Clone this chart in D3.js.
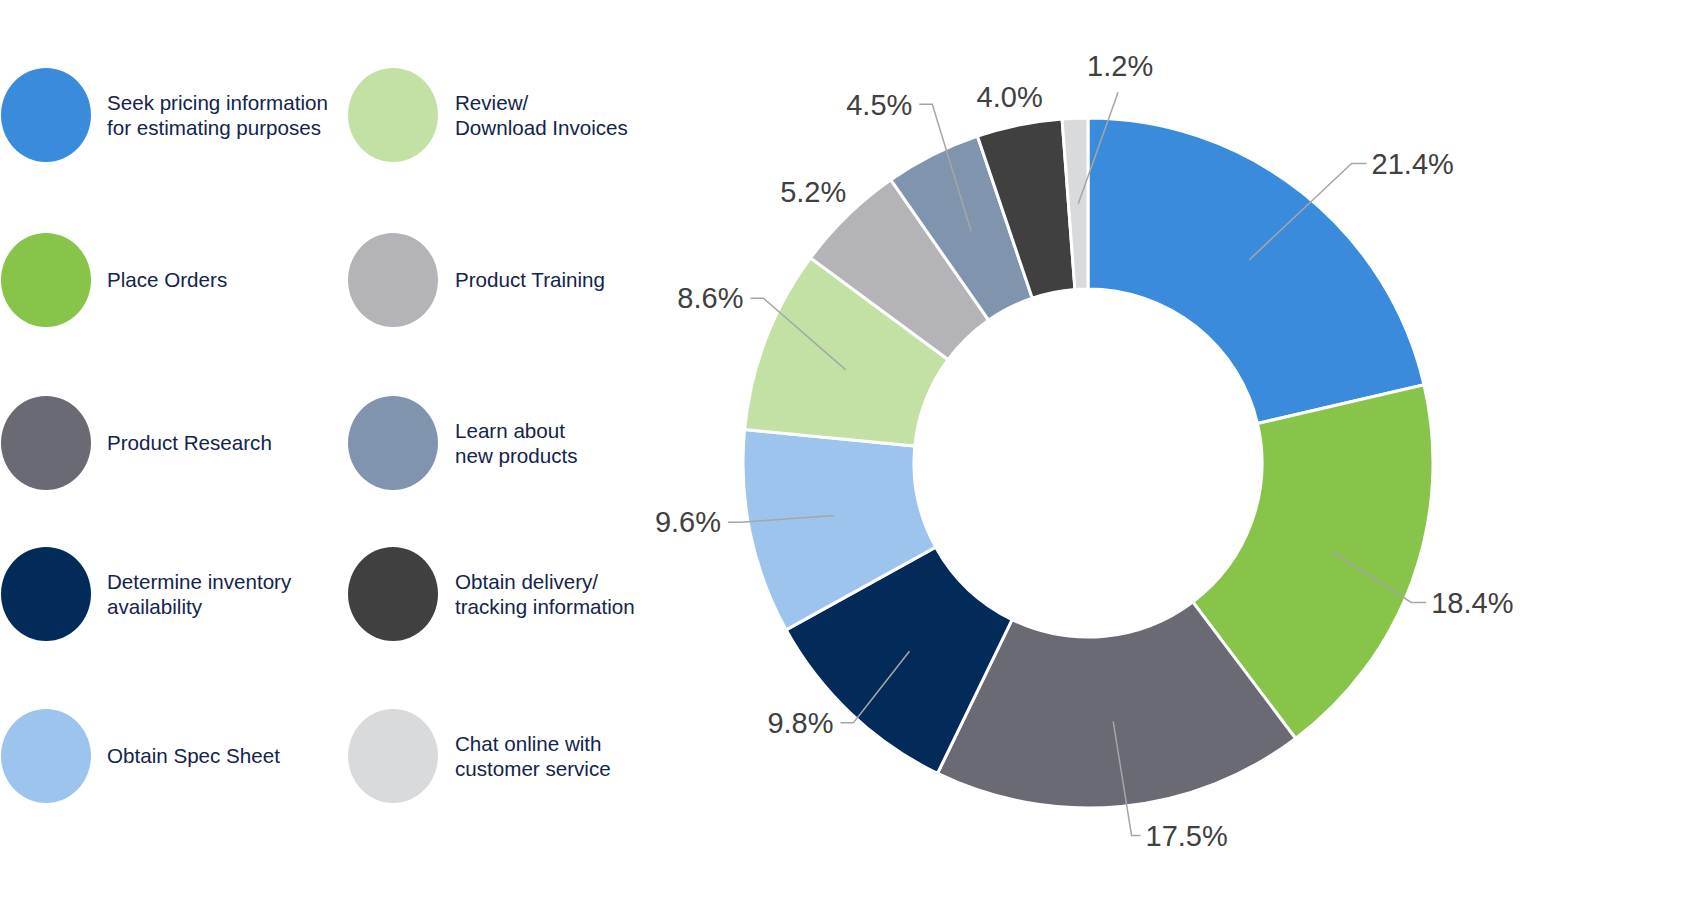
<!DOCTYPE html>
<html>
<head>
<meta charset="utf-8">
<script src="https://cdn.jsdelivr.net/npm/d3@7"></script>
<style>
  body { margin: 0; background: #fff; }
  svg text { font-family: "Liberation Sans", Arial, sans-serif; }
</style>
</head>
<body>
<div id="chart"></div>
<script>
// categories, clockwise from 12 o'clock
var categories = [
  ['Seek pricing information', 'for estimating purposes'],
  ['Place Orders'],
  ['Product Research'],
  ['Determine inventory', 'availability'],
  ['Obtain Spec Sheet'],
  ['Review/', 'Download Invoices'],
  ['Product Training'],
  ['Learn about', 'new products'],
  ['Obtain delivery/', 'tracking information'],
  ['Chat online with', 'customer service']
];
var shares = [21.4, 18.4, 17.5, 9.8, 9.6, 8.6, 5.2, 4.5, 4.0, 1.2];
var colors = ['#3b8bdd', '#88c34a', '#6a6a74', '#022b5a', '#9dc4ec',
              '#c4e1a5', '#b4b4b8', '#8094ad', '#404040', '#d9dadc'];

// label layout: angle nudge (deg) from slice middle, radius of the label anchor, leader?
var labelNudge = [2.9, 3.4, -1.1, -1.4, 2.0, 5.9, -1.2, 3.3, -0.6, 6.8];
var labelRadius = [399, 352, 375, 350, 352, 364, 386, 391, 374, 372];
var hasLeader = [true, true, true, true, true, true, false, true, false, true];

var width = 1689, height = 924;
var cx = 1088, cy = 463, outerR = 345, innerR = 174;

var svg = d3.select('#chart').append('svg')
  .attr('width', width)
  .attr('height', height);

// ---- donut
var pie = d3.pie().sort(null).value(function (d) { return d; });
var arcs = pie(shares);
var arc = d3.arc().innerRadius(innerR).outerRadius(outerR);

var g = svg.append('g').attr('transform', 'translate(' + cx + ',' + cy + ')');

g.selectAll('path.slice')
  .data(arcs)
  .enter()
  .append('path')
  .attr('class', 'slice')
  .attr('d', arc)
  .attr('fill', function (d, i) { return colors[i]; })
  .attr('stroke', '#fff')
  .attr('stroke-width', 3);

// ---- labels + leader lines
function polar(angle, r) {
  return [r * Math.sin(angle), -r * Math.cos(angle)];
}

arcs.forEach(function (d, i) {
  var mid = (d.startAngle + d.endAngle) / 2;
  var a = mid + labelNudge[i] * Math.PI / 180;
  var p = polar(a, labelRadius[i]);
  var txt = shares[i].toFixed(1) + '%';
  var c = arc.centroid(d);
  var deg = a * 180 / Math.PI;

  var tx = p[0], ty = p[1], anchor = 'middle';
  if (hasLeader[i]) {
    var pts = [c, p];
    if (deg > 20 && deg < 160) {
      // right side: elbow then text to the right
      pts.push([p[0] + 15, p[1]]);
      tx = p[0] + 20; anchor = 'start';
    } else if (deg >= 160 && deg < 200) {
      pts.push([p[0] + 9, p[1]]);
      tx = p[0] + 14; anchor = 'start';
    } else if (deg >= 200 && deg < 340) {
      pts.push([p[0] - 13, p[1]]);
      tx = p[0] - 20; anchor = 'end';
    } else {
      // near the top: straight line, text sits above
      tx = p[0] + 2;
      ty = p[1] - 26;
    }
    g.append('path')
      .attr('d', d3.line()(pts))
      .attr('fill', 'none')
      .attr('stroke', '#a6a6a6')
      .attr('stroke-width', 1.5);
  }

  g.append('text')
    .attr('x', tx)
    .attr('y', ty)
    .attr('dy', '0.35em')
    .attr('text-anchor', anchor)
    .style('font-size', '29px')
    .style('fill', '#404040')
    .text(txt);
});

// ---- legend (two columns of five)
var colX = [46, 393], textX = [107, 455];
var rowY = [115, 280, 443, 594, 756];

var legend = svg.selectAll('g.legend')
  .data(categories)
  .enter()
  .append('g')
  .attr('class', 'legend')
  .attr('transform', function (d, i) {
    return 'translate(0,' + rowY[i % 5] + ')';
  });

legend.append('ellipse')
  .attr('cx', function (d, i) { return colX[Math.floor(i / 5)]; })
  .attr('cy', 0)
  .attr('rx', 45)
  .attr('ry', 47)
  .attr('fill', function (d, i) { return colors[i]; });

legend.append('text')
  .style('font-size', '20.6px')
  .style('fill', '#13244d')
  .each(function (d, i) {
    var t = d3.select(this);
    var x = textX[Math.floor(i / 5)];
    d.forEach(function (line, k) {
      t.append('tspan')
        .attr('x', x)
        .attr('y', (k - (d.length - 1) / 2) * 25)
        .attr('dy', '0.35em')
        .text(line);
    });
  });
</script>
</body>
</html>
